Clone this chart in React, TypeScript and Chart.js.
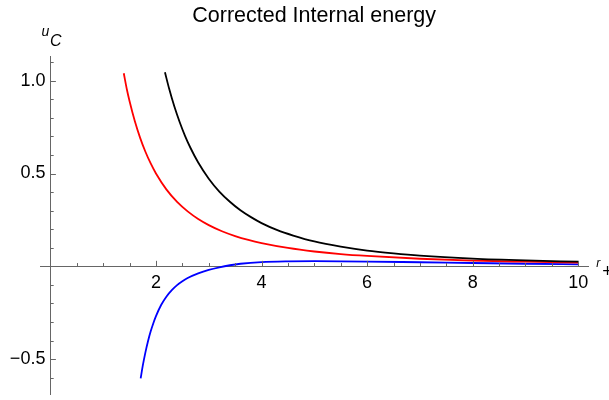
import React, { useEffect, useRef } from 'react';
import { Chart, registerables } from 'chart.js';

Chart.register(...registerables);

const TITLE = 'Corrected Internal energy';

// Red curve
const redX = [1.39, 1.45, 1.5, 1.6, 1.7, 1.8, 1.9, 2.0, 2.2, 2.4, 2.6, 2.8, 3.0, 3.25, 3.5, 3.75, 4.0, 4.5, 5.0, 5.5, 6.0, 7.0, 8.0, 9.0, 10.0];
const redY = [1.04, 0.951, 0.889, 0.781, 0.692, 0.617, 0.554, 0.5, 0.413, 0.347, 0.296, 0.255, 0.222, 0.189, 0.163, 0.142, 0.125, 0.099, 0.08, 0.066, 0.056, 0.041, 0.031, 0.025, 0.02];

// Black curve
const blackX = [2.17, 2.25, 2.35, 2.45, 2.55, 2.65, 2.8, 3.0, 3.2, 3.4, 3.6, 3.8, 4.0, 4.3, 4.6, 5.0, 5.5, 6.0, 6.5, 7.0, 8.0, 9.0, 10.0];
const blackY = [1.045, 0.956, 0.859, 0.776, 0.703, 0.64, 0.559, 0.472, 0.403, 0.348, 0.302, 0.265, 0.233, 0.195, 0.166, 0.134, 0.106, 0.085, 0.07, 0.058, 0.042, 0.032, 0.025];

// Blue curve
const blueX = [1.71, 1.75, 1.8, 1.85, 1.9, 1.95, 2.0, 2.1, 2.2, 2.3, 2.4, 2.5, 2.6, 2.8, 3.0, 3.2, 3.4, 3.6, 4.0, 4.5, 5.0, 6.0, 7.0, 8.0, 9.0, 10.0];
const blueY = [-0.603, -0.535, -0.463, -0.402, -0.35, -0.306, -0.268, -0.207, -0.162, -0.128, -0.101, -0.08, -0.063, -0.038, -0.019, -0.005, 0.006, 0.014, 0.023, 0.027, 0.028, 0.026, 0.022, 0.018, 0.014, 0.011];

// Axis ranges and tick steps
const X_MIN = -0.197;
const X_MAX = 10.19;
const Y_MIN = -0.689;
const Y_MAX = 1.129;
const X_MINOR_STEP = 0.5;
const X_LABEL_STEP = 2;
const Y_MINOR_STEP = 0.1;
const Y_LABEL_STEP = 0.5;

const AXIS_COLOR = '#666666';
const FONT = '"Liberation Sans", Arial, sans-serif';

const isMult = (v: number, s: number) => Math.abs(v / s - Math.round(v / s)) < 1e-6;

const toPoints = (xs: number[], ys: number[]) => xs.map((x, i) => ({ x, y: ys[i] }));

const axisDecor = {
  id: 'axisDecor',
  afterDraw(chart: any) {
    const { ctx, scales, chartArea } = chart;
    const xs = scales.x;
    const ys = scales.y;
    const x0 = xs.getPixelForValue(0);
    const y0 = ys.getPixelForValue(0);
    ctx.save();
    ctx.strokeStyle = AXIS_COLOR;
    ctx.lineWidth = 1;
    xs.ticks.forEach((t: any) => {
      const v = t.value;
      if (!isMult(v, X_MINOR_STEP)) return;
      const len = isMult(v, X_LABEL_STEP) ? 5.5 : 3.3;
      const px = Math.round(xs.getPixelForValue(v)) + 0.5;
      ctx.beginPath();
      ctx.moveTo(px, y0);
      ctx.lineTo(px, y0 - len);
      ctx.stroke();
    });
    ys.ticks.forEach((t: any) => {
      const v = t.value;
      if (!isMult(v, Y_MINOR_STEP)) return;
      const len = isMult(v, Y_LABEL_STEP) ? 5.5 : 3.3;
      const py = Math.round(ys.getPixelForValue(v)) + 0.5;
      ctx.beginPath();
      ctx.moveTo(x0, py);
      ctx.lineTo(x0 + len, py);
      ctx.stroke();
    });
    // axis labels
    ctx.fillStyle = '#000';
    ctx.textBaseline = 'alphabetic';
    ctx.textAlign = 'left';
    ctx.font = `italic 14px ${FONT}`;
    ctx.fillText('u', chartArea.left + 1.5, chartArea.top - 20.5);
    ctx.font = `italic 16px ${FONT}`;
    ctx.fillText('C', chartArea.left + 10, chartArea.top - 10.5);
    ctx.font = `italic 12px ${FONT}`;
    ctx.fillText('r', chartArea.right + 8, y0 + 1);
    ctx.font = `18px ${FONT}`;
    ctx.fillText('+', chartArea.right + 14, y0 + 11);
    ctx.restore();
  },
};

export default function App() {
  const ref = useRef<HTMLCanvasElement | null>(null);

  useEffect(() => {
    if (!ref.current) return;
    const chart = new Chart(ref.current, {
      type: 'line',
      data: {
        datasets: [
          { label: 'black', data: toPoints(blackX, blackY), borderColor: '#000000', borderWidth: 1.8, pointRadius: 0, cubicInterpolationMode: 'monotone', fill: false },
          { label: 'red', data: toPoints(redX, redY), borderColor: '#ff0000', borderWidth: 1.8, pointRadius: 0, cubicInterpolationMode: 'monotone', fill: false },
          { label: 'blue', data: toPoints(blueX, blueY), borderColor: '#0000ff', borderWidth: 1.8, pointRadius: 0, cubicInterpolationMode: 'monotone', fill: false },
        ],
      },
      options: {
        animation: false,
        responsive: false,
        events: [],
        layout: { padding: { left: 40, right: 20.7, top: 0, bottom: 5.7 } },
        plugins: {
          legend: { display: false },
          tooltip: { enabled: false },
          title: {
            display: true,
            text: TITLE,
            fullSize: false,
            color: '#000',
            font: { family: FONT, size: 21.5, weight: 'normal' },
            padding: { top: 3, bottom: 27.9 },
          },
        },
        scales: {
          x: {
            type: 'linear',
            min: X_MIN,
            max: X_MAX,
            position: { y: 0 } as any,
            afterFit: (s: any) => { s.height = 0; s.paddingLeft = 0; s.paddingRight = 0; s.paddingTop = 0; s.paddingBottom = 0; },
            grid: { display: false, drawTicks: false },
            border: { display: true, color: AXIS_COLOR, width: 1 },
            ticks: {
              stepSize: X_MINOR_STEP,
              includeBounds: false,
              autoSkip: false,
              maxRotation: 0,
              padding: 6,
              color: '#000',
              font: { family: FONT, size: 18 },
              callback: (v: any) => (isMult(Number(v), X_LABEL_STEP) && Math.abs(Number(v)) > 1e-9 ? String(Math.round(Number(v))) : ''),
            },
          },
          y: {
            type: 'linear',
            min: Y_MIN,
            max: Y_MAX,
            position: { x: 0 } as any,
            afterFit: (s: any) => { s.width = 0; s.paddingLeft = 0; s.paddingRight = 0; s.paddingTop = 0; s.paddingBottom = 0; },
            grid: { display: false, drawTicks: false },
            border: { display: true, color: AXIS_COLOR, width: 1 },
            ticks: {
              stepSize: Y_MINOR_STEP,
              includeBounds: false,
              autoSkip: false,
              padding: 0,
              color: '#000',
              font: { family: FONT, size: 18 },
              callback: (v: any) => (isMult(Number(v), Y_LABEL_STEP) && Math.abs(Number(v)) > 1e-9 ? Number(v).toFixed(1).replace('-', '\u2212') + ' ' : ''),
            },
          },
        },
      } as any,
      plugins: [axisDecor],
    });
    return () => chart.destroy();
  }, []);

  return (
    <div style={{ position: 'absolute', left: 0, top: 0, width: 609, height: 400, background: '#fff' }}>
      <canvas ref={ref} width={609} height={400} style={{ display: 'block' }} />
    </div>
  );
}
